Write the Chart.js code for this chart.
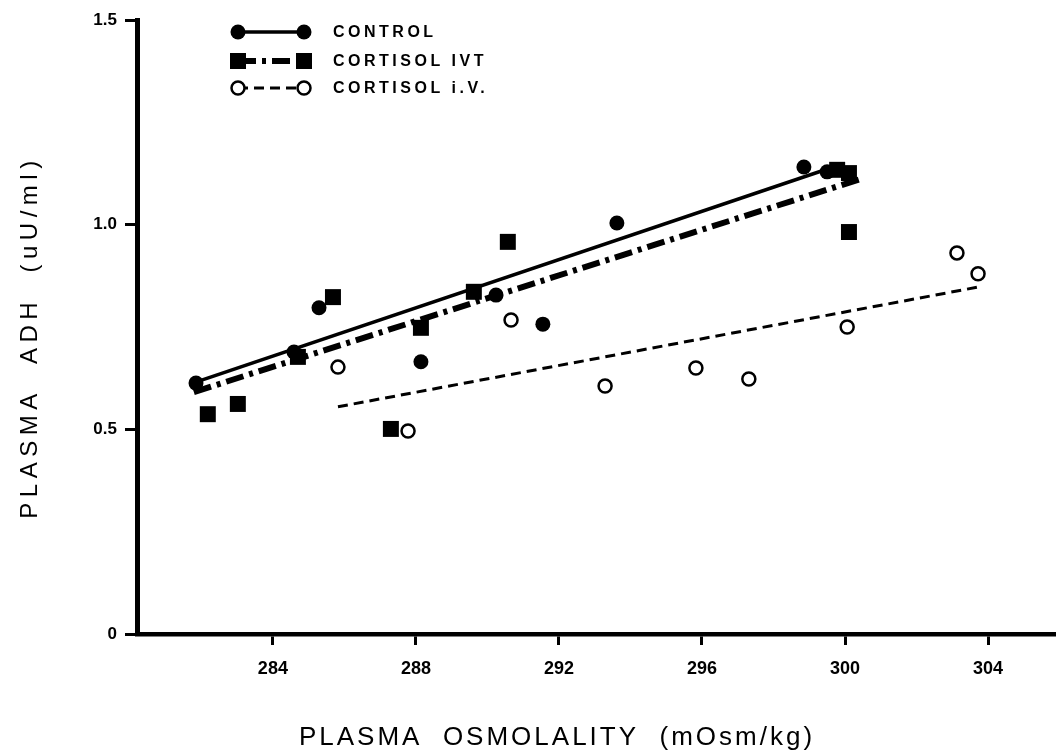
<!DOCTYPE html>
<html>
<head>
<meta charset="utf-8">
<script src="https://cdn.jsdelivr.net/npm/chart.js@4.4.1/dist/chart.umd.min.js"></script>
<style>
  html, body { margin: 0; padding: 0; background: #fff; }
  #wrap { width: 1056px; height: 756px; }
</style>
</head>
<body>
<div id="wrap"><canvas id="adhChart" width="1056" height="756"></canvas></div>
<script>
// Plasma ADH vs plasma osmolality
const xTicks = [284, 288, 292, 296, 300, 304];
const yTicks = [0, 0.5, 1.0, 1.5];

const controlX = [281.85, 284.59, 285.29, 288.14, 290.24, 291.55, 293.62, 298.85, 299.50];
const controlY = [0.613, 0.689, 0.797, 0.665, 0.828, 0.757, 1.004, 1.141, 1.129];

const ivtX = [282.18, 283.02, 284.70, 285.68, 287.30, 288.14, 289.62, 290.57, 299.78, 300.11, 300.11];
const ivtY = [0.537, 0.562, 0.677, 0.823, 0.501, 0.748, 0.836, 0.958, 1.134, 1.126, 0.982];

const ivX = [285.82, 287.78, 290.66, 293.29, 295.83, 297.31, 300.06, 303.13, 303.72];
const ivY = [0.652, 0.496, 0.767, 0.606, 0.650, 0.623, 0.750, 0.931, 0.880];

// regression lines (end points)
const controlFitX = [281.76, 299.61];
const controlFitY = [0.613, 1.139];
const ivtFitX = [281.79, 300.45];
const ivtFitY = [0.591, 1.112];
const ivFitX = [285.82, 303.75];
const ivFitY = [0.555, 0.848];

const legendLabels = ['CONTROL', 'CORTISOL IVT', 'CORTISOL i.V.'];

function pts(xs, ys) {
    return xs.map((x, i) => ({ x: x, y: ys[i] }));
}

const dashDot = [18, 6, 4, 6];
const dashed = [10, 6];

function drawMarker(ctx, kind, x, y) {
    ctx.save();
    ctx.fillStyle = '#000';
    ctx.strokeStyle = '#000';
    ctx.setLineDash([]);
    if (kind === 'circle') {
        ctx.beginPath(); ctx.arc(x, y, 7.5, 0, Math.PI * 2); ctx.fill();
    } else if (kind === 'square') {
        ctx.fillRect(x - 8, y - 8, 16, 16);
    } else {
        ctx.lineWidth = 2.5;
        ctx.fillStyle = '#fff';
        ctx.beginPath(); ctx.arc(x, y, 6.5, 0, Math.PI * 2); ctx.fill(); ctx.stroke();
    }
    ctx.restore();
}

const textPlugin = {
    id: 'textPlugin',
    afterDraw(chart) {
        const ctx = chart.ctx;
        // legend
        const rows = [
            { y: 32, kind: 'circle', width: 3.5, dash: [] },
            { y: 61, kind: 'square', width: 6, dash: dashDot },
            { y: 88, kind: 'open', width: 3, dash: dashed }
        ];
        rows.forEach((r, i) => {
            ctx.save();
            ctx.strokeStyle = '#000';
            ctx.lineWidth = r.width;
            ctx.setLineDash(r.dash);
            ctx.beginPath(); ctx.moveTo(238, r.y); ctx.lineTo(304, r.y); ctx.stroke();
            ctx.restore();
            drawMarker(ctx, r.kind, 238, r.y);
            drawMarker(ctx, r.kind, 304, r.y);
            ctx.save();
            ctx.fillStyle = '#000';
            ctx.font = 'bold 16px "Liberation Sans", Arial, sans-serif';
            ctx.letterSpacing = '3.5px';
            ctx.textBaseline = 'middle';
            ctx.textAlign = 'left';
            ctx.fillText(legendLabels[i], 333, r.y + 1);
            ctx.restore();
        });

        // axis titles
        ctx.save();
        ctx.fillStyle = '#000';
        ctx.textAlign = 'center';
        ctx.textBaseline = 'middle';
        ctx.font = '26px "Liberation Sans", Arial, sans-serif';
        ctx.letterSpacing = '3px';
        ctx.fillText('PLASMA  OSMOLALITY  (mOsm/kg)', 557, 738);
        ctx.translate(30, 337);
        ctx.rotate(-Math.PI / 2);
        ctx.font = '24px "Liberation Sans", Arial, sans-serif';
        ctx.letterSpacing = '5.5px';
        ctx.fillText('PLASMA  ADH  (uU/ml)', 0, 0);
        ctx.restore();
    }
};

new Chart(document.getElementById('adhChart'), {
    type: 'scatter',
    data: {
        datasets: [
            {
                label: 'CONTROL',
                data: pts(controlX, controlY),
                pointStyle: 'circle',
                pointRadius: 7.5,
                backgroundColor: '#000',
                borderColor: '#000',
                borderWidth: 0,
                order: 0
            },
            {
                label: 'CORTISOL IVT',
                data: pts(ivtX, ivtY),
                pointStyle: 'rect',
                pointRadius: 11.3,
                backgroundColor: '#000',
                borderColor: '#000',
                borderWidth: 0,
                order: 0
            },
            {
                label: 'CORTISOL i.V.',
                data: pts(ivX, ivY),
                pointStyle: 'circle',
                pointRadius: 6.5,
                backgroundColor: '#fff',
                borderColor: '#000',
                borderWidth: 2.5,
                order: 0
            },
            {
                label: 'control fit',
                data: pts(controlFitX, controlFitY),
                showLine: true,
                pointRadius: 0,
                borderColor: '#000',
                borderWidth: 3.5,
                order: 1
            },
            {
                label: 'ivt fit',
                data: pts(ivtFitX, ivtFitY),
                showLine: true,
                pointRadius: 0,
                borderColor: '#000',
                borderWidth: 6,
                borderDash: dashDot,
                order: 1
            },
            {
                label: 'iv fit',
                data: pts(ivFitX, ivFitY),
                showLine: true,
                pointRadius: 0,
                borderColor: '#000',
                borderWidth: 3,
                borderDash: dashed,
                order: 1
            }
        ]
    },
    options: {
        responsive: false,
        animation: false,
        events: [],
        layout: { autoPadding: false, padding: { top: 20, right: 0, left: 0, bottom: 0 } },
        plugins: {
            legend: { display: false },
            tooltip: { enabled: false }
        },
        scales: {
            x: {
                type: 'linear',
                min: 280.2,
                max: 305.9,
                afterBuildTicks: function(scale) {
                    scale.ticks = xTicks.map(v => ({ value: v }));
                },
                afterFit: function(scale) {
                    scale.height = 122;
                    scale.paddingRight = 0;
                    scale.paddingLeft = 0;
                },
                ticks: {
                    color: '#000',
                    padding: 13,
                    font: { family: '"Liberation Sans", Arial, sans-serif', size: 18, weight: 'bold' },
                    callback: v => String(v)
                },
                grid: { drawOnChartArea: false, drawTicks: true, tickLength: 11, tickWidth: 3, color: '#000' },
                border: { display: true, width: 4.5, color: '#000' }
            },
            y: {
                min: 0,
                max: 1.5,
                afterBuildTicks: function(scale) {
                    scale.ticks = yTicks.map(v => ({ value: v }));
                },
                afterFit: function(scale) { scale.width = 137; },
                ticks: {
                    color: '#000',
                    padding: 8,
                    font: { family: '"Liberation Sans", Arial, sans-serif', size: 17, weight: 'bold' },
                    callback: v => (v === 0 ? '0' : v.toFixed(1))
                },
                grid: { drawOnChartArea: false, drawTicks: true, tickLength: 12, tickWidth: 3, color: '#000' },
                border: { display: true, width: 5, color: '#000' }
            }
        }
    },
    plugins: [textPlugin]
});
</script>
</body>
</html>
